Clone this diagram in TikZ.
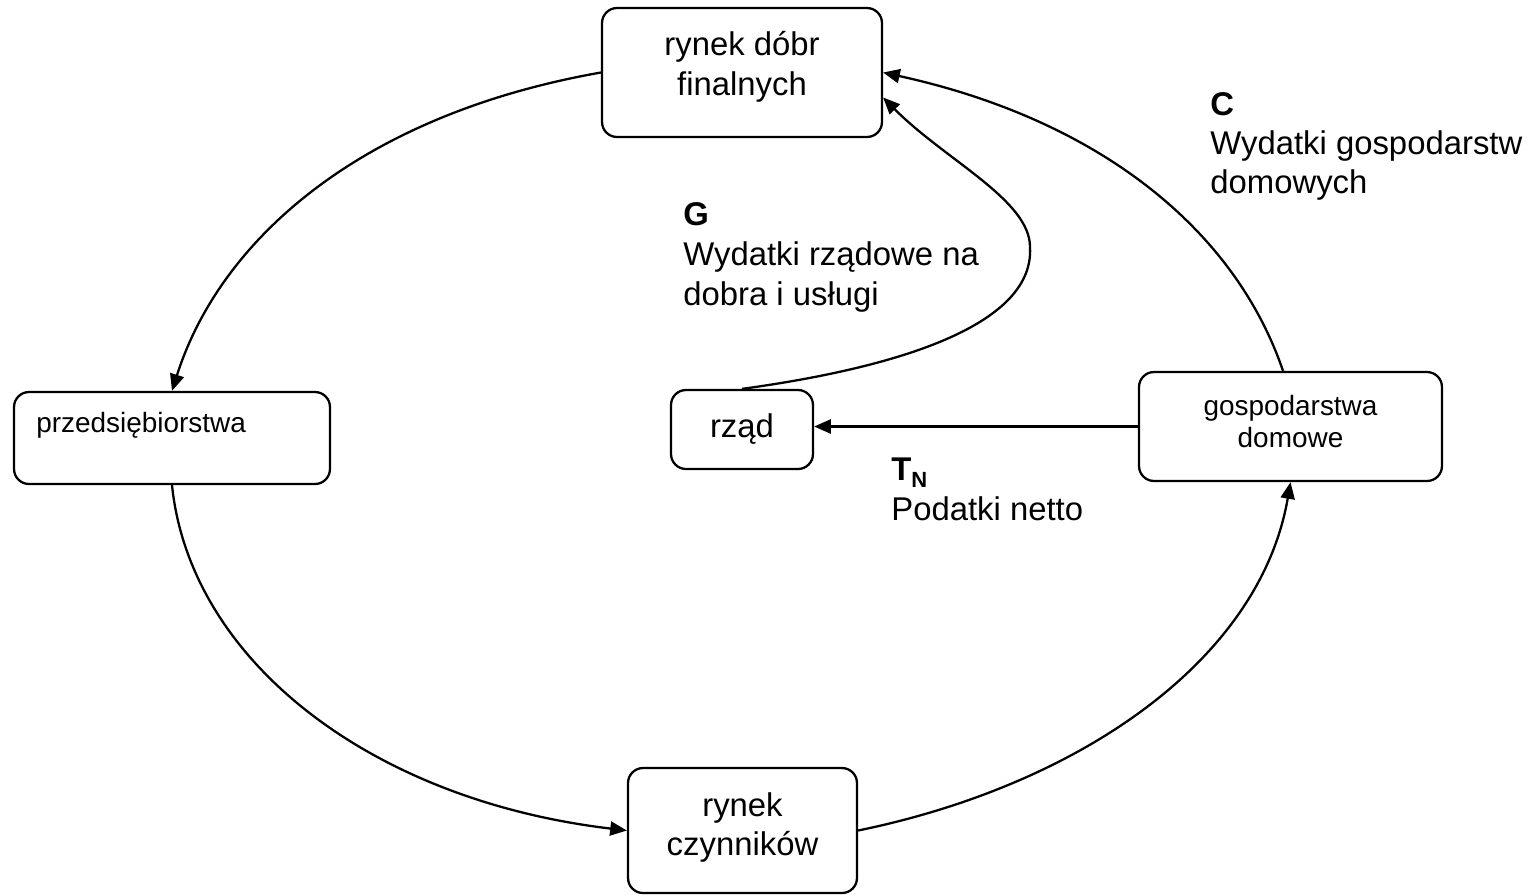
\documentclass[tikz,border=0pt]{standalone}
\usepackage{fontspec}
\setmainfont{Liberation Sans}
\usetikzlibrary{arrows.meta}
\newcommand{\dpth}[1]{\rule[-#1]{0pt}{#1}}
\begin{document}
\begin{tikzpicture}[x=0.02cm,y=-0.02cm,
  box/.style={draw, line width=1.3pt, rounded corners=0.3cm, align=center, inner sep=0pt},
  big/.style={font=\fontsize{18.7}{22.7}\selectfont},
  small/.style={font=\fontsize{15.9}{18.1}\selectfont},
  flow/.style={line width=1.3pt, -{Triangle[length=9.5pt,width=8pt]}},
  lab/.style={anchor=base west, align=left, inner sep=0pt}]
\useasboundingbox (0,0) rectangle (1539,894);
% boxes
\node[box,big,minimum width=5.6cm,minimum height=2.58cm] (top) at (742,72.5) {rynek dóbr\\finalnych\dpth{10.7pt}};
\node[box,minimum width=6.32cm,minimum height=1.84cm] (firm) at (172,438) {};
\node[small,anchor=base west,inner sep=0pt] (firmlab) at (36,432) {przedsiębiorstwa};
\node[box,big,minimum width=2.84cm,minimum height=1.58cm] (gov) at (742,429.5) {rząd};
\node[box,small,minimum width=6.06cm,minimum height=2.18cm] (hh) at (1290.5,426.5) {gospodarstwa\\domowe\dpth{5.6pt}};
\node[box,big,minimum width=4.58cm,minimum height=2.5cm] (fm) at (742.5,830.5) {rynek\\czynników\dpth{7.3pt}};
\coordinate (gbend) at (1030,247);
% flows
\draw[flow] (top.west) .. controls (360,115) and (220,240) .. (firm.north);
\draw[flow] (firm.south) .. controls (190,660) and (370,800) .. (fm.west);
\draw[flow] (fm.east) .. controls (1080,785) and (1260,660) .. (hh.south);
\draw[flow] ([xshift=-0.15cm]hh.north) .. controls (1235,230) and (1100,120) .. (top.east);
\draw[flow] (gov.north) .. controls (880,370) and (1035,330) .. (gbend) .. controls (1030,200) and (945,160) .. ([yshift=-0.5cm]top.east);
\draw[flow] (hh.west) -- (hh.west -| gov.east);
% labels
\node[lab,font=\fontsize{18.7}{22.1}\selectfont] (clab) at (1210,193) {\textbf{C}\\Wydatki gospodarstw\\domowych};
\node[lab,font=\fontsize{18.7}{22.7}\selectfont] (glab) at (683,305) {\textbf{G}\\Wydatki rządowe na\\dobra i usługi};
\node[lab,font=\fontsize{18.7}{22.7}\selectfont] (tlab) at (891,520) {\textbf{T}\raisebox{-4pt}{\fontsize{12.5}{12.5}\selectfont\bfseries N}\\Podatki netto};
\end{tikzpicture}
\end{document}
